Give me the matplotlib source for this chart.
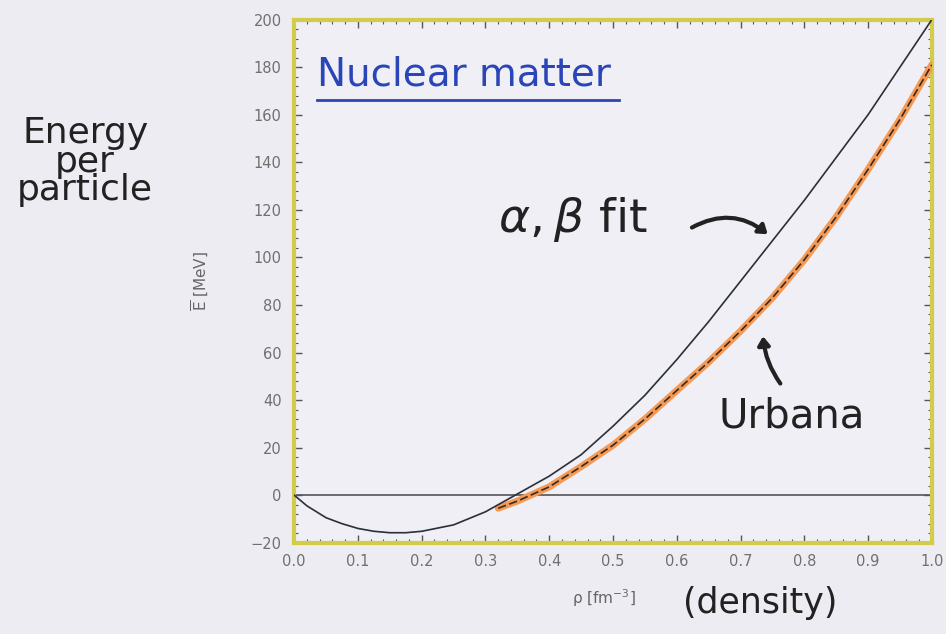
import matplotlib
matplotlib.use("Agg")
import matplotlib.pyplot as plt
from matplotlib.ticker import MultipleLocator

# Energy per particle of nuclear matter vs density
rho_fit = [0.0, 0.02, 0.05, 0.075, 0.1, 0.125, 0.15, 0.175, 0.2, 0.25, 0.3, 0.35,
           0.4, 0.45, 0.5, 0.55, 0.6, 0.65, 0.7, 0.75, 0.8, 0.85, 0.9, 0.95, 1.0]
e_fit = [0.0, -4.5, -9.5, -12.0, -14.0, -15.2, -15.8, -15.8, -15.2, -12.5, -7.0, 0.5,
         8.0, 17.0, 29.0, 42.0, 57.0, 73.0, 90.0, 107.0, 124.0, 142.0, 160.0, 180.0, 200.0]

rho_urbana = [0.32, 0.35, 0.4, 0.45, 0.5, 0.55, 0.6, 0.65, 0.7, 0.75, 0.8, 0.85, 0.9, 0.95, 1.0]
e_urbana = [-5.5, -2.5, 3.5, 12.0, 21.0, 32.0, 44.0, 56.0, 69.0, 83.0, 99.0, 117.0, 137.0, 158.0, 181.0]

x_ticks = [0.0, 0.1, 0.2, 0.3, 0.4, 0.5, 0.6, 0.7, 0.8, 0.9, 1.0]
y_ticks = [-20, 0, 20, 40, 60, 80, 100, 120, 140, 160, 180, 200]

BG = "#ececf2"
HAND = "DejaVu Sans"
INK = "#222222"

fig = plt.figure(figsize=(9.46, 6.34), dpi=100, facecolor=BG)
ax = fig.add_axes([0.311, 0.144, 0.674, 0.825], facecolor="#efeff5")

# zero line, fit curve, Urbana curve (orange band with dashed core)
ax.plot([0, 1], [0, 0], color="#555555", lw=1.2, zorder=2)
ax.plot(rho_urbana, e_urbana, color="#f59a55", lw=5, solid_capstyle="round", zorder=3)
ax.plot(rho_urbana, e_urbana, color="#3a2a20", lw=1.2, ls=(0, (5, 2)), zorder=4)
ax.plot(rho_fit, e_fit, color="#2a2f38", lw=1.2, zorder=5)

ax.set_xlim(0, 1.0)
ax.set_ylim(-20, 200)
ax.set_xticks(x_ticks)
ax.set_xticklabels([f"{v:.1f}" for v in x_ticks])
ax.set_yticks(y_ticks)
ax.xaxis.set_minor_locator(MultipleLocator(0.02))
ax.yaxis.set_minor_locator(MultipleLocator(4))
ax.tick_params(which="both", direction="in", top=True, right=True, color="#555555")
ax.tick_params(which="major", length=6, width=1, labelsize=10.5, labelcolor="#707070")
ax.tick_params(axis="x", which="major", pad=8)
ax.tick_params(axis="y", which="major", pad=9)
ax.tick_params(which="minor", length=3, width=0.8)
for sp in ax.spines.values():
    sp.set_color("#d2cc4a")
    sp.set_linewidth(3)

ax.set_xlabel("ρ [fm$^{-3}$]", fontsize=11, color="#666666")
ax.xaxis.set_label_coords(0.485, -0.085)
ax.set_ylabel(r"$\overline{\rm E}$ [MeV]", fontsize=11, color="#666666")
ax.yaxis.set_label_coords(-0.13, 0.5)

# hand-written notes
ax.text(0.035, 0.858, "Nuclear matter", transform=ax.transAxes, fontsize=28,
        color="#2a45b8", family=HAND, va="bottom")
ax.plot([0.035, 0.51], [0.847, 0.847], transform=ax.transAxes, color="#2a45b8", lw=2)

fig.text(0.09, 0.745, "Energy\nper\nparticle", ha="center", va="center", fontsize=26,
         color=INK, family=HAND, linespacing=0.8)
ax.text(0.32, 116, r"$\alpha,\beta$ fit", fontsize=34, color=INK, family=HAND,
        va="center")
ax.text(0.665, 33, "Urbana", fontsize=29, color=INK, family=HAND, va="center")
fig.text(0.722, 0.022, "(density)", fontsize=25, color=INK, family=HAND, va="bottom")

ax.annotate("", xy=(0.746, 109), xytext=(0.62, 112),
            arrowprops=dict(arrowstyle="-|>,head_length=0.5,head_width=0.35", lw=3,
                            color=INK, connectionstyle="arc3,rad=-0.35"))
ax.annotate("", xy=(0.735, 68), xytext=(0.765, 46),
            arrowprops=dict(arrowstyle="-|>,head_length=0.5,head_width=0.35", lw=3,
                            color=INK, connectionstyle="arc3,rad=-0.15"))

fig.savefig("out.png", dpi=100, facecolor=BG)
